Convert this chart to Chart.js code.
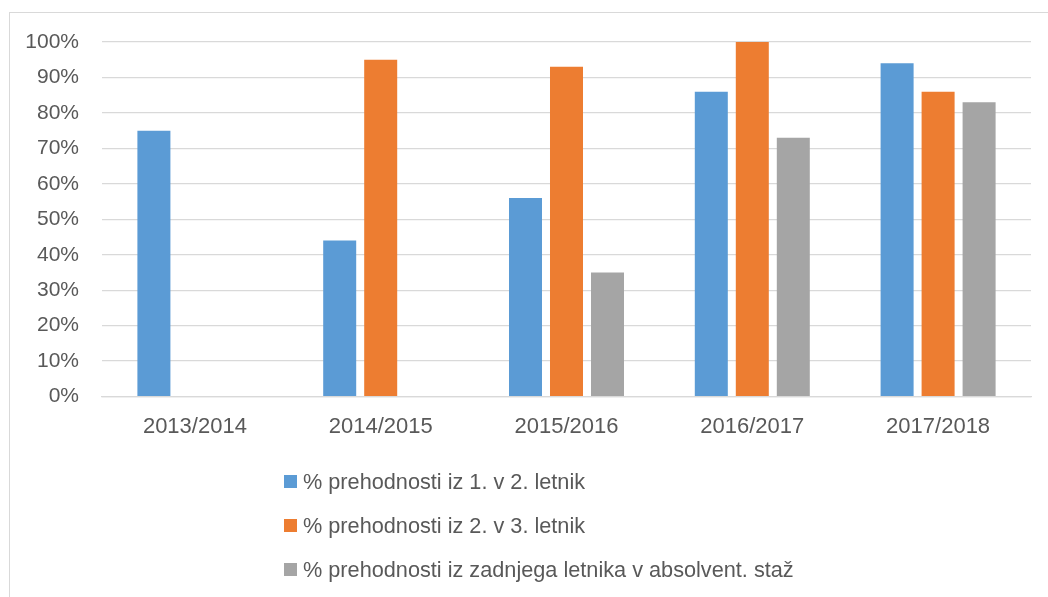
<!DOCTYPE html>
<html>
<head>
<meta charset="utf-8">
<script src="https://cdn.jsdelivr.net/npm/chart.js@4"></script>
<style>
  html, body { margin: 0; padding: 0; background: #fff; overflow: hidden; }
  body { width: 1048px; height: 597px; position: relative; }
  #frame { position: absolute; left: 9px; top: 12px; width: 1100px; height: 700px; border: 1px solid #d9d9d9; box-sizing: border-box; }
  #wrap { position: absolute; left: 0; top: 0; width: 1048px; height: 597px; }
  #legend { position: absolute; left: 284px; top: 469px; font-family: 'Liberation Sans', Arial, sans-serif; font-size: 21.7px; color: #595959; }
  .item { position: absolute; left: 0; white-space: nowrap; height: 26px; line-height: 26px; }
  .box { position: absolute; left: 0; top: 6px; width: 13px; height: 13px; }
  .txt { position: absolute; left: 19px; top: 0; }
</style>
</head>
<body>
<div id="frame"></div>
<div id="wrap"><canvas id="c" width="1048" height="597"></canvas></div>
<div id="legend"></div>
<script>
const categories = ['2013/2014', '2014/2015', '2015/2016', '2016/2017', '2017/2018'];
const seriesNames = [
  '% prehodnosti iz 1. v 2. letnik',
  '% prehodnosti iz 2. v 3. letnik',
  '% prehodnosti iz zadnjega letnika v absolvent. staž'
];
const series1 = [75, 44, 56, 86, 94];
const series2 = [null, 95, 93, 100, 86];
const series3 = [null, null, 35, 73, 83];
const seriesColors = ['#5b9bd5', '#ed7d31', '#a5a5a5'];
const yTicks = [0, 10, 20, 30, 40, 50, 60, 70, 80, 90, 100];

const FONT = "'Liberation Sans', Arial, sans-serif";
const values = [series1, series2, series3];

const chart = new Chart(document.getElementById('c'), {
  type: 'bar',
  data: {
    labels: categories,
    datasets: values.map((v, i) => ({
      label: seriesNames[i],
      data: v,
      backgroundColor: seriesColors[i],
      borderWidth: 0,
      categoryPercentage: 0.662,
      barPercentage: 0.805
    }))
  },
  options: {
    responsive: false,
    animation: false,
    layout: { padding: { left: 22, right: 17, top: 42, bottom: 140 } },
    plugins: { legend: { display: false }, tooltip: { enabled: false } },
    scales: {
      x: {
        grid: { display: false, drawTicks: false },
        border: { display: true, color: '#d9d9d9', width: 1.3 },
        ticks: { color: '#595959', font: { family: FONT, size: 22 }, padding: 17, maxRotation: 0 }
      },
      y: {
        min: 0, max: 100,
        afterFit: s => { s.width = 80; },
        afterBuildTicks: s => { s.ticks = yTicks.map(v => ({ value: v })); },
        grid: { color: '#d9d9d9', lineWidth: 1.3, drawTicks: false },
        border: { display: false },
        ticks: { color: '#595959', font: { family: FONT, size: 21 }, padding: 23, callback: v => v + '%' }
      }
    }
  }
});

const legend = document.getElementById('legend');
chart.data.datasets.forEach((ds, i) => {
  const it = document.createElement('div');
  it.className = 'item';
  it.style.top = (i * 44) + 'px';
  const b = document.createElement('span');
  b.className = 'box';
  b.style.background = ds.backgroundColor;
  const t = document.createElement('span');
  t.className = 'txt';
  t.textContent = ds.label;
  it.appendChild(b); it.appendChild(t);
  legend.appendChild(it);
});
</script>
</body>
</html>
